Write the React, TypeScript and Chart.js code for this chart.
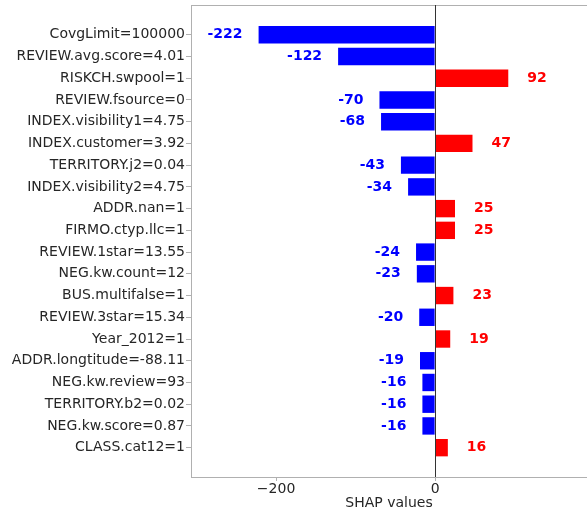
import React, { useEffect, useRef } from "react";
import { Chart, registerables } from "chart.js";

Chart.register(...registerables);

const labels = [
  "CovgLimit=100000",
  "REVIEW.avg.score=4.01",
  "RISKCH.swpool=1",
  "REVIEW.fsource=0",
  "INDEX.visibility1=4.75",
  "INDEX.customer=3.92",
  "TERRITORY.j2=0.04",
  "INDEX.visibility2=4.75",
  "ADDR.nan=1",
  "FIRMO.ctyp.llc=1",
  "REVIEW.1star=13.55",
  "NEG.kw.count=12",
  "BUS.multifalse=1",
  "REVIEW.3star=15.34",
  "Year_2012=1",
  "ADDR.longtitude=-88.11",
  "NEG.kw.review=93",
  "TERRITORY.b2=0.02",
  "NEG.kw.score=0.87",
  "CLASS.cat12=1",
];
const shapValues = [-222, -122, 92, -70, -68, 47, -43, -34, 25, 25, -24, -23, 23, -20, 19, -19, -16, -16, -16, 16];
const xTicks = [-200, 0];

const POS = "#ff0000";
const NEG = "#0000ff";
const FONT = "'DejaVu Sans', sans-serif";

export default function App() {
  const ref = useRef<HTMLCanvasElement | null>(null);
  useEffect(() => {
    document.body.style.margin = "0";
    const canvas = ref.current!;
    const framePlugin = {
      id: "frame",
      afterDatasetsDraw(chart: any) {
        const { ctx, chartArea } = chart;
        const xs = chart.scales.x;
        ctx.save();
        ctx.strokeStyle = "#b0b0b0";
        ctx.lineWidth = 1;
        ctx.beginPath();
        ctx.moveTo(chartArea.left, chartArea.top + 0.5);
        ctx.lineTo(chartArea.right, chartArea.top + 0.5);
        ctx.stroke();
        const x0 = Math.round(xs.getPixelForValue(0)) + 0.5;
        ctx.strokeStyle = "#333333";
        ctx.beginPath();
        ctx.moveTo(x0, chartArea.top);
        ctx.lineTo(x0, chartArea.bottom);
        ctx.stroke();
        const meta = chart.getDatasetMeta(0);
        ctx.font = `bold 14px ${FONT}`;
        ctx.textBaseline = "middle";
        shapValues.forEach((v, i) => {
          const el = meta.data[i];
          const xe = xs.getPixelForValue(v);
          if (v < 0) {
            ctx.fillStyle = NEG;
            ctx.textAlign = "right";
            ctx.fillText(String(v), xe - 16, el.y);
          } else {
            ctx.fillStyle = POS;
            ctx.textAlign = "left";
            ctx.fillText(String(v), xe + 19, el.y);
          }
        });
        ctx.restore();
      },
    };
    const chart = new Chart(canvas, {
      type: "bar",
      data: {
        datasets: [
          {
            data: shapValues.map((v, i) => ({ x: v, y: i })),
            backgroundColor: shapValues.map((v) => (v < 0 ? NEG : POS)),
            borderWidth: 0,
            barPercentage: 0.8,
            categoryPercentage: 1,
          },
        ],
      },
      options: {
        indexAxis: "y",
        responsive: false,
        animation: false,
        layout: { padding: { top: 5, right: 0, left: 0, bottom: 0 } },
        plugins: { legend: { display: false }, tooltip: { enabled: false } },
        scales: {
          x: {
            type: "linear",
            min: -307,
            max: 191,
            offset: false,
            afterBuildTicks: (s: any) => {
              s.ticks = xTicks.map((v) => ({ value: v }));
            },
            afterFit: (s: any) => {
              s.height = 35;
              s.paddingLeft = 0;
              s.paddingRight = 0;
            },
            grid: { offset: false, drawOnChartArea: false, drawTicks: true, tickLength: 4, color: "#b0b0b0" },
            border: { display: true, color: "#b0b0b0" },
            ticks: {
              color: "#262626",
              font: { family: FONT, size: 14 },
              padding: 0,
              maxRotation: 0,
              callback: (v: any) => (Number(v) < 0 ? "\u2212" + Math.abs(Number(v)) : String(v)),
            },
            title: {
              display: true,
              text: "SHAP values",
              color: "#262626",
              font: { family: FONT, size: 14 },
              padding: { top: 0, bottom: 0 },
            },
          },
          y: {
            type: "linear",
            reverse: true,
            offset: false,
            min: -1.37,
            max: 20.35,
            afterBuildTicks: (s: any) => {
              s.ticks = labels.map((_, i) => ({ value: i }));
            },
            afterFit: (s: any) => {
              s.width = 191;
              s.paddingTop = 0;
              s.paddingBottom = 0;
            },
            grid: { offset: false, drawOnChartArea: false, drawTicks: true, tickLength: 5, color: "#b0b0b0" },
            border: { display: true, color: "#b0b0b0" },
            ticks: {
              color: "#262626",
              font: { family: FONT, size: 14 },
              padding: 1,
              autoSkip: false,
              callback: (v: any) => labels[Number(v)] ?? "",
            },
          },
        },
      },
      plugins: [framePlugin],
    } as any);
    return () => chart.destroy();
  }, []);
  return (
    <div style={{ width: 587, height: 512 }}>
      <canvas ref={ref} width={587} height={512} style={{ display: "block" }} />
    </div>
  );
}
